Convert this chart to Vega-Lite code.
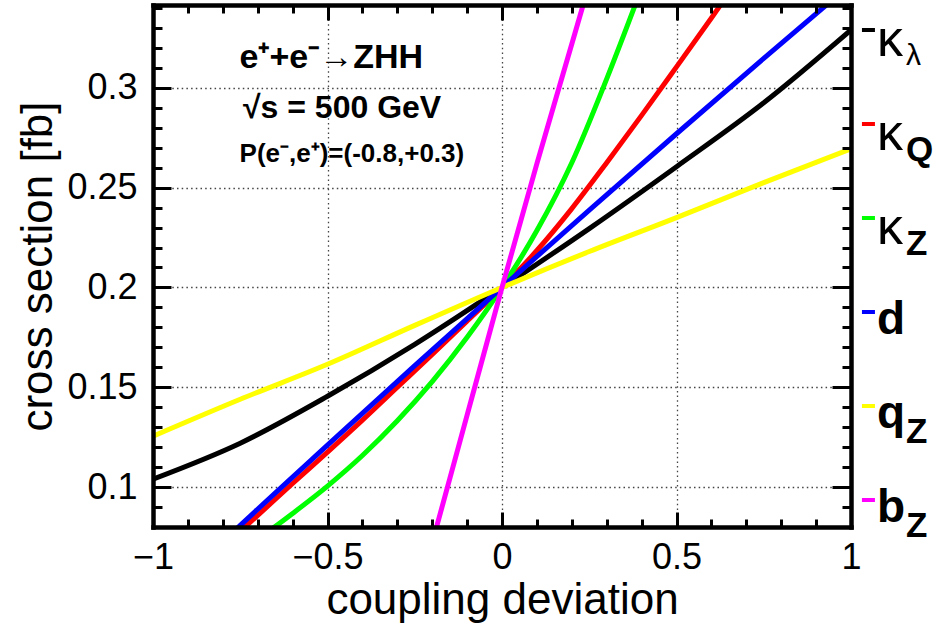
{
  "$schema": "https://vega.github.io/schema/vega-lite/v6.json",
  "width": 698,
  "height": 522,
  "autosize": {"type": "none"},
  "padding": {"left": 153, "top": 5, "right": 83, "bottom": 104},
  "background": "white",
  "config": {
    "view": {"stroke": null},
    "font": "Liberation Sans",
    "axis": {
      "labelFont": "Liberation Sans",
      "titleFont": "Liberation Sans",
      "labelColor": "black",
      "titleColor": "black",
      "titleFontWeight": "normal",
      "tickColor": "black",
      "domainColor": "black"
    }
  },
  "datasets": {
    "curves": [
      {"series": "kl", "x": -1, "y": 0.104},
      {"series": "kl", "x": -0.75, "y": 0.122},
      {"series": "kl", "x": -0.5, "y": 0.1455},
      {"series": "kl", "x": -0.25, "y": 0.1715},
      {"series": "kl", "x": 0, "y": 0.2},
      {"series": "kl", "x": 0.25, "y": 0.2295},
      {"series": "kl", "x": 0.5, "y": 0.2605},
      {"series": "kl", "x": 0.75, "y": 0.2925},
      {"series": "kl", "x": 1, "y": 0.329},
      {"series": "kQ", "x": -0.8, "y": 0.07},
      {"series": "kQ", "x": -0.7, "y": 0.0858},
      {"series": "kQ", "x": -0.6, "y": 0.1018},
      {"series": "kQ", "x": -0.5, "y": 0.1175},
      {"series": "kQ", "x": -0.4, "y": 0.1335},
      {"series": "kQ", "x": -0.3, "y": 0.15},
      {"series": "kQ", "x": -0.2, "y": 0.1665},
      {"series": "kQ", "x": -0.1, "y": 0.1832},
      {"series": "kQ", "x": 0, "y": 0.2},
      {"series": "kQ", "x": 0.1, "y": 0.2185},
      {"series": "kQ", "x": 0.2, "y": 0.2395},
      {"series": "kQ", "x": 0.3, "y": 0.2625},
      {"series": "kQ", "x": 0.4, "y": 0.2862},
      {"series": "kQ", "x": 0.5, "y": 0.3105},
      {"series": "kQ", "x": 0.6, "y": 0.335},
      {"series": "kQ", "x": 0.7, "y": 0.36},
      {"series": "kZ", "x": -0.7, "y": 0.0738},
      {"series": "kZ", "x": -0.6, "y": 0.0868},
      {"series": "kZ", "x": -0.5, "y": 0.1005},
      {"series": "kZ", "x": -0.4, "y": 0.1158},
      {"series": "kZ", "x": -0.3, "y": 0.1332},
      {"series": "kZ", "x": -0.2, "y": 0.1528},
      {"series": "kZ", "x": -0.1, "y": 0.175},
      {"series": "kZ", "x": 0, "y": 0.2},
      {"series": "kZ", "x": 0.1, "y": 0.2285},
      {"series": "kZ", "x": 0.2, "y": 0.2625},
      {"series": "kZ", "x": 0.3, "y": 0.3045},
      {"series": "kZ", "x": 0.4, "y": 0.35},
      {"series": "d", "x": -0.8, "y": 0.0726},
      {"series": "d", "x": -0.75, "y": 0.0808},
      {"series": "d", "x": -0.5, "y": 0.121},
      {"series": "d", "x": -0.25, "y": 0.1608},
      {"series": "d", "x": 0, "y": 0.2},
      {"series": "d", "x": 0.25, "y": 0.2388},
      {"series": "d", "x": 0.5, "y": 0.277},
      {"series": "d", "x": 0.75, "y": 0.3148},
      {"series": "d", "x": 1, "y": 0.352},
      {"series": "qZ", "x": -1, "y": 0.1255},
      {"series": "qZ", "x": -0.75, "y": 0.144},
      {"series": "qZ", "x": -0.5, "y": 0.1615},
      {"series": "qZ", "x": -0.25, "y": 0.181},
      {"series": "qZ", "x": 0, "y": 0.2},
      {"series": "qZ", "x": 0.25, "y": 0.218},
      {"series": "qZ", "x": 0.5, "y": 0.235},
      {"series": "qZ", "x": 0.75, "y": 0.2525},
      {"series": "qZ", "x": 1, "y": 0.2695},
      {"series": "bZ", "x": -0.2, "y": 0.072},
      {"series": "bZ", "x": -0.1, "y": 0.136},
      {"series": "bZ", "x": 0, "y": 0.2},
      {"series": "bZ", "x": 0.1, "y": 0.262},
      {"series": "bZ", "x": 0.2, "y": 0.322},
      {"series": "bZ", "x": 0.25, "y": 0.352}
    ],
    "legend": [
      {"series": "kl", "main": "κ", "sub": "λ"},
      {"series": "kQ", "main": "κ", "sub": "Q"},
      {"series": "kZ", "main": "κ", "sub": "Z"},
      {"series": "d", "main": "d", "sub": ""},
      {"series": "qZ", "main": "q", "sub": "Z"},
      {"series": "bZ", "main": "b", "sub": "Z"}
    ]
  },
  "data": {"name": "curves"},
  "layer": [
    {
      "mark": {"type": "line", "strokeWidth": 5, "clip": true, "interpolate": "monotone"},
      "encoding": {
        "x": {
          "field": "x", "type": "quantitative",
          "scale": {"domain": [-1, 1], "nice": false, "zero": false},
          "axis": {
            "orient": "bottom", "values": [-1, -0.5, 0, 0.5, 1],
            "ticks": false, "domain": false, "labels": false, "title": null,
            "grid": true, "gridDash": [1.5, 3.2], "gridColor": "#444", "gridWidth": 1.3,
            "zindex": 0
          }
        },
        "y": {
          "field": "y", "type": "quantitative",
          "scale": {"domain": [0.08, 0.3415], "nice": false, "zero": false},
          "axis": {
            "orient": "left", "values": [0.1, 0.15, 0.2, 0.25, 0.3],
            "ticks": false, "domain": false, "labels": false, "title": null,
            "grid": true, "gridDash": [1.5, 3.2], "gridColor": "#444", "gridWidth": 1.3,
            "zindex": 0
          }
        },
        "color": {
          "field": "series", "type": "nominal",
          "scale": {
            "domain": ["kl", "kQ", "kZ", "d", "qZ", "bZ"],
            "range": ["#000000", "#ff0000", "#00ff00", "#0000ff", "#ffff00", "#ff00ff"]
          },
          "legend": null
        }
      }
    },
    {
      "mark": {"type": "line", "opacity": 0},
      "encoding": {
        "x": {
          "field": "x", "type": "quantitative",
          "scale": {"domain": [-1, 1], "nice": false, "zero": false},
          "axis": {
            "orient": "bottom", "values": [-1, -0.5, 0, 0.5, 1], "format": ".1~f",
            "ticks": true, "tickSize": -15, "tickWidth": 3, "grid": false,
            "domain": true, "domainWidth": 4.5, "domainCap": "square",
            "labelFontSize": 36, "labelPadding": 28, "labelFlush": false,
            "title": "coupling deviation", "titleFontSize": 44, "titlePadding": 3,
            "zindex": 1
          }
        },
        "y": {
          "field": "y", "type": "quantitative",
          "scale": {"domain": [0.08, 0.3415], "nice": false, "zero": false},
          "axis": {
            "orient": "left", "values": [0.1, 0.15, 0.2, 0.25, 0.3], "format": ".2~f",
            "ticks": true, "tickSize": -18, "tickWidth": 3, "grid": false,
            "domain": true, "domainWidth": 4.5, "domainCap": "square",
            "labelFontSize": 36, "labelPadding": 34, "labelFlush": false,
            "title": "cross section [fb]", "titleFontSize": 44, "titlePadding": 6,
            "zindex": 1
          }
        }
      }
    },
    {
      "mark": {"type": "line", "opacity": 0},
      "encoding": {
        "x": {
          "field": "x", "type": "quantitative",
          "scale": {"domain": [-1, 1], "nice": false, "zero": false},
          "axis": {
            "orient": "top", "values": [-1, -0.5, 0, 0.5, 1],
            "ticks": true, "tickSize": -15, "tickWidth": 3,
            "grid": false, "labels": true, "labelOpacity": 0, "title": null,
            "domain": true, "domainWidth": 4.5, "domainCap": "square",
            "zindex": 1
          }
        },
        "y": {
          "field": "y", "type": "quantitative",
          "scale": {"domain": [0.08, 0.3415], "nice": false, "zero": false},
          "axis": {
            "orient": "right", "values": [0.1, 0.15, 0.2, 0.25, 0.3],
            "ticks": true, "tickSize": -19, "tickWidth": 3,
            "grid": false, "labels": true, "labelOpacity": 0, "title": null,
            "domain": true, "domainWidth": 4.5, "domainCap": "square",
            "zindex": 1
          }
        }
      }
    },
    {
      "mark": {"type": "line", "opacity": 0},
      "encoding": {
        "x": {
          "field": "x", "type": "quantitative",
          "scale": {"domain": [-1, 1], "nice": false, "zero": false},
          "axis": {
            "orient": "bottom",
            "values": [-0.9, -0.8, -0.7, -0.6, -0.4, -0.3, -0.2, -0.1, 0.1, 0.2, 0.3, 0.4, 0.6, 0.7, 0.8, 0.9],
            "labels": true, "labelOpacity": 0, "grid": false, "title": null, "domain": false,
            "ticks": true, "tickSize": -8, "tickWidth": 3,
            "zindex": 1
          }
        },
        "y": {
          "field": "y", "type": "quantitative",
          "scale": {"domain": [0.08, 0.3415], "nice": false, "zero": false},
          "axis": {
            "orient": "left",
            "values": [0.08, 0.09, 0.11, 0.12, 0.13, 0.14, 0.16, 0.17, 0.18, 0.19, 0.21, 0.22, 0.23, 0.24, 0.26, 0.27, 0.28, 0.29, 0.31, 0.32, 0.33, 0.34],
            "labels": true, "labelOpacity": 0, "grid": false, "title": null, "domain": false,
            "ticks": true, "tickSize": -9, "tickWidth": 3,
            "zindex": 1
          }
        }
      }
    },
    {
      "mark": {"type": "line", "opacity": 0},
      "encoding": {
        "x": {
          "field": "x", "type": "quantitative",
          "scale": {"domain": [-1, 1], "nice": false, "zero": false},
          "axis": {
            "orient": "top",
            "values": [-0.9, -0.8, -0.7, -0.6, -0.4, -0.3, -0.2, -0.1, 0.1, 0.2, 0.3, 0.4, 0.6, 0.7, 0.8, 0.9],
            "labels": true, "labelOpacity": 0, "grid": false, "title": null, "domain": false,
            "ticks": true, "tickSize": -8, "tickWidth": 3,
            "zindex": 1
          }
        },
        "y": {
          "field": "y", "type": "quantitative",
          "scale": {"domain": [0.08, 0.3415], "nice": false, "zero": false},
          "axis": {
            "orient": "right",
            "values": [0.08, 0.09, 0.11, 0.12, 0.13, 0.14, 0.16, 0.17, 0.18, 0.19, 0.21, 0.22, 0.23, 0.24, 0.26, 0.27, 0.28, 0.29, 0.31, 0.32, 0.33, 0.34],
            "labels": true, "labelOpacity": 0, "grid": false, "title": null, "domain": false,
            "ticks": true, "tickSize": -9, "tickWidth": 3,
            "zindex": 1
          }
        }
      }
    },
    {
      "data": {"values": [{"t": "e⁺+e⁻→ZHH"}]},
      "mark": {"type": "text", "font": "Liberation Sans", "fontWeight": "bold", "fontSize": 34, "align": "left", "baseline": "alphabetic"},
      "encoding": {
        "text": {"field": "t"},
        "x": {"datum": -0.752, "type": "quantitative", "scale": {"domain": [-1, 1], "nice": false, "zero": false}, "axis": null},
        "y": {"datum": 0.31, "type": "quantitative", "scale": {"domain": [0.08, 0.3415], "nice": false, "zero": false}, "axis": null}
      }
    },
    {
      "data": {"values": [{"t": "√s = 500 GeV"}]},
      "mark": {"type": "text", "font": "Liberation Sans", "fontWeight": "bold", "fontSize": 32, "align": "left", "baseline": "alphabetic"},
      "encoding": {
        "text": {"field": "t"},
        "x": {"datum": -0.742, "type": "quantitative", "scale": {"domain": [-1, 1], "nice": false, "zero": false}, "axis": null},
        "y": {"datum": 0.285, "type": "quantitative", "scale": {"domain": [0.08, 0.3415], "nice": false, "zero": false}, "axis": null}
      }
    },
    {
      "data": {"values": [{"t": "P(e⁻,e⁺)=(-0.8,+0.3)"}]},
      "mark": {"type": "text", "font": "Liberation Sans", "fontWeight": "bold", "fontSize": 26, "align": "left", "baseline": "alphabetic"},
      "encoding": {
        "text": {"field": "t"},
        "x": {"datum": -0.752, "type": "quantitative", "scale": {"domain": [-1, 1], "nice": false, "zero": false}, "axis": null},
        "y": {"datum": 0.263, "type": "quantitative", "scale": {"domain": [0.08, 0.3415], "nice": false, "zero": false}, "axis": null}
      }
    },
    {
      "data": {"name": "legend"},
      "mark": {"type": "point", "shape": "stroke", "size": 169, "strokeWidth": 4, "filled": false, "opacity": 1},
      "encoding": {
        "x": {"datum": 1.05, "type": "quantitative", "scale": {"domain": [-1, 1], "nice": false, "zero": false}, "axis": null},
        "y": {"field": "series", "type": "nominal", "scale": {"type": "point", "domain": ["kl", "kQ", "kZ", "d", "qZ", "bZ"], "range": [25, 495], "padding": 0}, "axis": null},
        "color": {"field": "series", "type": "nominal", "legend": null}
      }
    },
    {
      "data": {"name": "legend"},
      "transform": [{"filter": "datum.main == 'κ'"}],
      "mark": {"type": "text", "font": "Liberation Sans", "fontSize": 52, "align": "left", "baseline": "alphabetic", "dx": 26, "dy": 26, "color": "black"},
      "encoding": {
        "text": {"field": "main"},
        "x": {"datum": 1, "type": "quantitative", "scale": {"domain": [-1, 1], "nice": false, "zero": false}, "axis": null},
        "y": {"field": "series", "type": "nominal", "scale": {"type": "point", "domain": ["kl", "kQ", "kZ", "d", "qZ", "bZ"], "range": [25, 495], "padding": 0}, "axis": null}
      }
    },
    {
      "data": {"name": "legend"},
      "transform": [{"filter": "datum.main != 'κ'"}],
      "mark": {"type": "text", "font": "Liberation Sans", "fontWeight": "bold", "fontSize": 46, "align": "left", "baseline": "alphabetic", "dx": 26, "dy": 22, "color": "black"},
      "encoding": {
        "text": {"field": "main"},
        "x": {"datum": 1, "type": "quantitative", "scale": {"domain": [-1, 1], "nice": false, "zero": false}, "axis": null},
        "y": {"field": "series", "type": "nominal", "scale": {"type": "point", "domain": ["kl", "kQ", "kZ", "d", "qZ", "bZ"], "range": [25, 495], "padding": 0}, "axis": null}
      }
    },
    {
      "data": {"name": "legend"},
      "transform": [{"filter": "datum.sub == 'λ'"}],
      "mark": {"type": "text", "font": "Liberation Sans", "fontSize": 30, "align": "left", "baseline": "alphabetic", "dx": 55, "dy": 35, "color": "black"},
      "encoding": {
        "text": {"field": "sub"},
        "x": {"datum": 1, "type": "quantitative", "scale": {"domain": [-1, 1], "nice": false, "zero": false}, "axis": null},
        "y": {"field": "series", "type": "nominal", "scale": {"type": "point", "domain": ["kl", "kQ", "kZ", "d", "qZ", "bZ"], "range": [25, 495], "padding": 0}, "axis": null}
      }
    },
    {
      "data": {"name": "legend"},
      "transform": [{"filter": "datum.sub != 'λ' && datum.sub != ''"}],
      "mark": {"type": "text", "font": "Liberation Sans", "fontWeight": "bold", "fontSize": 35, "align": "left", "baseline": "alphabetic", "dx": 55, "dy": 37, "color": "black"},
      "encoding": {
        "text": {"field": "sub"},
        "x": {"datum": 1, "type": "quantitative", "scale": {"domain": [-1, 1], "nice": false, "zero": false}, "axis": null},
        "y": {"field": "series", "type": "nominal", "scale": {"type": "point", "domain": ["kl", "kQ", "kZ", "d", "qZ", "bZ"], "range": [25, 495], "padding": 0}, "axis": null}
      }
    }
  ],
  "resolve": {
    "scale": {"y": "independent"},
    "axis": {"x": "independent", "y": "independent"}
  }
}
